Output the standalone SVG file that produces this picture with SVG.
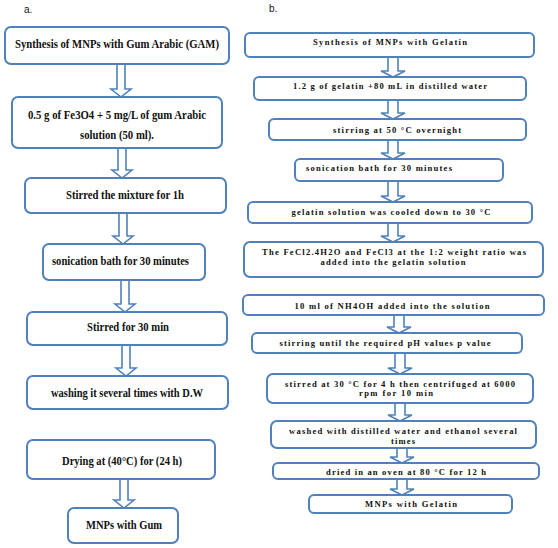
<svg xmlns="http://www.w3.org/2000/svg" width="558" height="548" viewBox="0 0 558 548">
<style>
.box{fill:#fff;stroke:#4f81bd;stroke-width:2}
.arr{fill:#fff;stroke:#4f81bd;stroke-width:1.6;stroke-linejoin:miter}
.tl{font-family:"Liberation Serif","Times New Roman",serif;font-weight:bold;font-size:13px;fill:#111;text-anchor:middle}
.tr{font-family:"Liberation Serif","Times New Roman",serif;font-weight:bold;font-size:8.6px;fill:#111;text-anchor:middle}
.lab{font-family:"Liberation Sans",Arial,sans-serif;font-size:10px;fill:#111}
</style>
<rect width="558" height="548" fill="#fff"/>
<text class="lab" x="24" y="13">a.</text>
<text class="lab" x="269" y="12">b.</text>
<g id="connectors">
<path class="arr" d="M117,64 V89 H111 L121,97 L131,89 H125 V64 Z"/>
<path class="arr" d="M118,148 V170 H112 L122,178 L132,170 H126 V148 Z"/>
<path class="arr" d="M119,213 V236 H113 L123,244 L133,236 H127 V213 Z"/>
<path class="arr" d="M121,280 V304 H115 L125,312 L135,304 H129 V280 Z"/>
<path class="arr" d="M122,345 V368 H116 L126,376 L136,368 H130 V345 Z"/>
<path class="arr" d="M120,479 V500 H114 L124,508 L134,500 H128 V479 Z"/>
<path class="arr" d="M388,57 V71 H381 L393,77 L405,71 H398 V57 Z"/>
<path class="arr" d="M388,100 V113 H381 L393,119 L405,113 H398 V100 Z"/>
<path class="arr" d="M388,140 V153 H381 L393,159 L405,153 H398 V140 Z"/>
<path class="arr" d="M388,181 V196 H381 L393,202 L405,196 H398 V181 Z"/>
<path class="arr" d="M388,223 V236 H381 L393,242 L405,236 H398 V223 Z"/>
<path class="arr" d="M394,315 V327 H387 L399,333 L411,327 H404 V315 Z"/>
<path class="arr" d="M395,353 V368 H388 L400,374 L412,368 H405 V353 Z"/>
<path class="arr" d="M395,403 V415 H388 L400,421 L412,415 H405 V403 Z"/>
<path class="arr" d="M397,448 V457 H390 L402,463 L414,457 H407 V448 Z"/>
<path class="arr" d="M397,479 V489 H390 L402,495 L414,489 H407 V479 Z"/>
</g>
<g id="a1"><rect class="box" x="5" y="27" width="224" height="37" rx="6"/><text class="tl" x="117" y="48" textLength="204" lengthAdjust="spacingAndGlyphs">Synthesis of MNPs with Gum Arabic (GAM)</text></g>
<g id="a2"><rect class="box" x="12" y="97" width="210" height="51" rx="6"/><text class="tl" x="117" y="119" textLength="178" lengthAdjust="spacingAndGlyphs">0.5 g of Fe3O4 + 5 mg/L of gum Arabic</text><text class="tl" x="117" y="139" textLength="74" lengthAdjust="spacingAndGlyphs">solution (50 ml).</text></g>
<g id="a3"><rect class="box" x="25" y="178" width="201" height="35" rx="6"/><text class="tl" x="125" y="199" textLength="118" lengthAdjust="spacingAndGlyphs">Stirred the mixture for 1h</text></g>
<g id="a4"><rect class="box" x="43" y="244" width="162" height="36" rx="6"/><text class="tl" x="120.5" y="265" textLength="137" lengthAdjust="spacingAndGlyphs">sonication bath for 30 minutes</text></g>
<g id="a5"><rect class="box" x="27" y="312" width="200" height="33" rx="6"/><text class="tl" x="128" y="331" textLength="82" lengthAdjust="spacingAndGlyphs">Stirred for 30 min</text></g>
<g id="a6"><rect class="box" x="27" y="376" width="201" height="33" rx="6"/><text class="tl" x="127" y="397" textLength="152" lengthAdjust="spacingAndGlyphs">washing it several times with D.W</text></g>
<g id="a7"><rect class="box" x="27" y="440" width="188" height="39" rx="6"/><text class="tl" x="122" y="465" textLength="120" lengthAdjust="spacingAndGlyphs">Drying at (40°C) for (24 h)</text></g>
<g id="a8"><rect class="box" x="68" y="508" width="110" height="35" rx="6"/><text class="tl" x="124" y="529" textLength="76" lengthAdjust="spacingAndGlyphs">MNPs with Gum</text></g>
<g id="b1"><rect class="box" x="245" y="33" width="289" height="24" rx="5"/><text class="tr" x="390" y="45" textLength="154" lengthAdjust="spacing">Synthesis of MNPs with Gelatin</text></g>
<g id="b2"><rect class="box" x="254" y="77" width="272" height="23" rx="5"/><text class="tr" x="390" y="89" textLength="194" lengthAdjust="spacing">1.2 g of gelatin +80 mL in distilled water</text></g>
<g id="b3"><rect class="box" x="269" y="119" width="257" height="21" rx="5"/><text class="tr" x="397" y="133" textLength="128" lengthAdjust="spacing">stirring at 50 °C overnight</text></g>
<g id="b4"><rect class="box" x="295" y="159" width="208" height="22" rx="5"/><text class="tr" x="379" y="171" textLength="146" lengthAdjust="spacing">sonication bath for 30 minutes</text></g>
<g id="b5"><rect class="box" x="248" y="202" width="284" height="21" rx="5"/><text class="tr" x="391" y="215" textLength="199" lengthAdjust="spacing">gelatin solution was cooled down to 30 °C</text></g>
<g id="b6"><rect class="box" x="244" y="242" width="299" height="35" rx="6"/><text class="tr" x="394" y="255" textLength="264" lengthAdjust="spacing">The FeCl2.4H2O and FeCl3 at the 1:2 weight ratio was</text><text class="tr" x="393" y="265" textLength="145" lengthAdjust="spacing">added into the gelatin solution</text></g>
<g id="b7"><rect class="box" x="243" y="295" width="301" height="20" rx="5"/><text class="tr" x="392" y="309" textLength="195" lengthAdjust="spacing">10 ml of NH4OH added into the solution</text></g>
<g id="b8"><rect class="box" x="252" y="333" width="270" height="20" rx="5"/><text class="tr" x="385" y="346" textLength="211" lengthAdjust="spacing">stirring until the required pH values p value</text></g>
<g id="b9"><rect class="box" x="267" y="374" width="266" height="29" rx="6"/><text class="tr" x="400" y="387" textLength="230" lengthAdjust="spacing">stirred at 30 °C for 4 h then centrifuged at 6000</text><text class="tr" x="396" y="396" textLength="74" lengthAdjust="spacing">rpm for 10 min</text></g>
<g id="b10"><rect class="box" x="271" y="421" width="265" height="27" rx="6"/><text class="tr" x="403" y="434" textLength="228" lengthAdjust="spacing">washed with distilled water and ethanol several</text><text class="tr" x="403" y="444" textLength="24" lengthAdjust="spacing">times</text></g>
<g id="b11"><rect class="box" x="273" y="463" width="266" height="16" rx="5"/><text class="tr" x="406" y="475" textLength="160" lengthAdjust="spacing">dried in an oven at 80 °C for 12 h</text></g>
<g id="b12"><rect class="box" x="309" y="495" width="203" height="18" rx="5"/><text class="tr" x="411" y="507" textLength="92" lengthAdjust="spacing">MNPs with Gelatin</text></g>
</svg>
